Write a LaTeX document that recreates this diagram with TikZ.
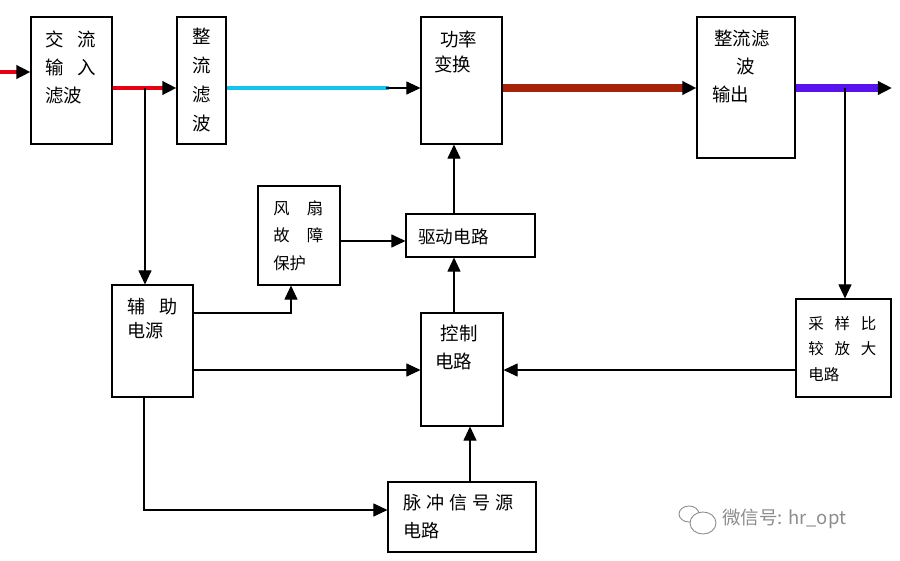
\documentclass[tikz,border=0pt]{standalone}
\usepackage{fontspec}
\usepackage{tikz}
\usetikzlibrary{arrows.meta}
\newfontfamily\cjk{Noto Sans CJK SC}

\definecolor{acred}{RGB}{232,0,16}
\definecolor{dccyan}{RGB}{20,195,240}
\definecolor{hfbrown}{RGB}{165,35,8}
\definecolor{dcblue}{RGB}{88,18,240}
\definecolor{wmgray}{RGB}{140,140,140}

\tikzset{
	blk/.style={draw, line width=0.6pt, inner sep=0pt},
	txt/.style={anchor=north west, inner sep=0pt, align=left},
	sig/.style={line width=0.6pt, -{Triangle[length=8pt,width=7.4pt]}},
	bus/.style={line width=#1, -{Triangle[length=8pt,width=7.4pt,color=black]}},
}

\begin{document}
\begin{tikzpicture}[x=0.02cm, y=-0.02cm]
	\useasboundingbox (0,0) rectangle (900,561);

	\node[blk, minimum width=1.62cm, minimum height=2.54cm] (acin) at (71.5,80.5) {};
	\node[blk, minimum width=0.98cm, minimum height=2.54cm] (rect) at (201.5,80.5) {};
	\node[blk, minimum width=1.62cm, minimum height=2.54cm] (conv) at (461.5,80.5) {};
	\node[blk, minimum width=1.96cm, minimum height=2.82cm] (outf) at (746,87.5) {};
	\node[blk, minimum width=1.64cm, minimum height=1.98cm] (fan) at (299,235.5) {};
	\node[blk, minimum width=2.58cm, minimum height=0.86cm] (drive) at (470.5,235.5) {};
	\node[blk, minimum width=1.62cm, minimum height=2.24cm] (aux) at (152.5,341) {};
	\node[blk, minimum width=1.64cm, minimum height=2.26cm] (ctrl) at (462,369.5) {};
	\node[blk, minimum width=1.90cm, minimum height=1.96cm] (samp) at (843.5,348) {};
	\node[blk, minimum width=2.96cm, minimum height=1.40cm] (pulse) at (462,517) {};

	\node[txt, font=\cjk\fontsize{10.5}{16}\selectfont] (acinT) at (45,30) {交\hspace{0.75em}流\\输\hspace{0.75em}入\\滤波};
	\node[txt, font=\cjk\fontsize{10.5}{16.4}\selectfont] (rectT) at (192,28) {整\\流\\滤\\波};
	\node[txt, font=\cjk\fontsize{10.5}{14.2}\selectfont] (convT) at (434,31) {\hspace*{3.4pt}功率\\变换};
	\node[txt, font=\cjk\fontsize{10.5}{15.8}\selectfont] (outfT) at (712,30) {\hspace*{1pt}整流滤\\\hspace*{13.6pt}波\\输出};
	\node[txt, font=\cjk\fontsize{9.3}{15.8}\selectfont] (fanT) at (273,200) {风\hspace{1.05em}扇\\故\hspace{1.05em}障\\保护};
	\node[txt, anchor=west, font=\cjk\fontsize{10}{12}\selectfont] (driveT) at (418,237) {驱动电路};
	\node[txt, font=\cjk\fontsize{10.3}{13.6}\selectfont] (auxT) at (127,298) {辅\hspace{0.8em}助\\电源};
	\node[txt, font=\cjk\fontsize{10.5}{16}\selectfont] (ctrlT) at (435,325) {\hspace*{3pt}控制\\电路};
	\node[txt, font=\cjk\fontsize{8.8}{14.5}\selectfont] (sampT) at (808,316) {采\hspace{0.7em}样\hspace{0.7em}比\\较\hspace{0.7em}放\hspace{0.7em}大\\电路};
	\node[txt, font=\cjk\fontsize{10.3}{15.8}\selectfont] (pulseT) at (403,494) {脉\hspace{0.28em}冲\hspace{0.28em}信\hspace{0.28em}号\hspace{0.28em}源\\电路};

	\coordinate (in) at (0,72);
	\coordinate (busy) at (0,88);
	\coordinate (tapA) at (145,88);
	\coordinate (tapB) at (845,88);
	\coordinate (out) at (892,88);

	\draw[bus=2.6pt, acred] (in) -- (in -| acin.west);
	\draw[bus=2.6pt, acred] (busy -| acin.east) -- (busy -| rect.west);
	\draw[line width=2.4pt, dccyan] (busy -| rect.east) -- (389,88) coordinate (cyend);
	\draw[sig] (386,88) -- (busy -| conv.west);
	\draw[bus=4.6pt, hfbrown] (busy -| conv.east) -- (busy -| outf.west);
	\draw[bus=4.4pt, dcblue] (busy -| outf.east) -- (out);

	\draw[sig] (tapA) -- (tapA |- aux.north);
	\draw[sig] (tapB) -- (tapB |- samp.north);
	\draw[sig] (aux.east |- 0,313) -| (291,0 |- fan.south);
	\draw[sig] (fan.east |- 0,241) -- (drive.west |- 0,241);
	\draw[sig] (454,0 |- drive.north) -- (454,0 |- conv.south);
	\draw[sig] (454,0 |- ctrl.north) -- (454,0 |- drive.south);
	\draw[sig] (aux.east |- 0,370) -- (ctrl.west |- 0,370);
	\draw[sig] (samp.west |- 0,370) -- (ctrl.east |- 0,370);
	\draw[sig] (144,0 |- aux.south) |- (pulse.west |- 0,510);
	\draw[sig] (470,0 |- pulse.north) -- (470,0 |- ctrl.south);

	\draw[wmgray, line width=0.5pt] (689,514) ellipse (10 and 8);
	\draw[wmgray, line width=0.5pt, fill=white] (703,523) ellipse (13 and 11);
	\node[anchor=west, inner sep=0pt, text=wmgray, font=\cjk\fontsize{10.5}{12}\selectfont] (wmark) at (722,519) {微信号: hr\_opt};
\end{tikzpicture}
\end{document}
